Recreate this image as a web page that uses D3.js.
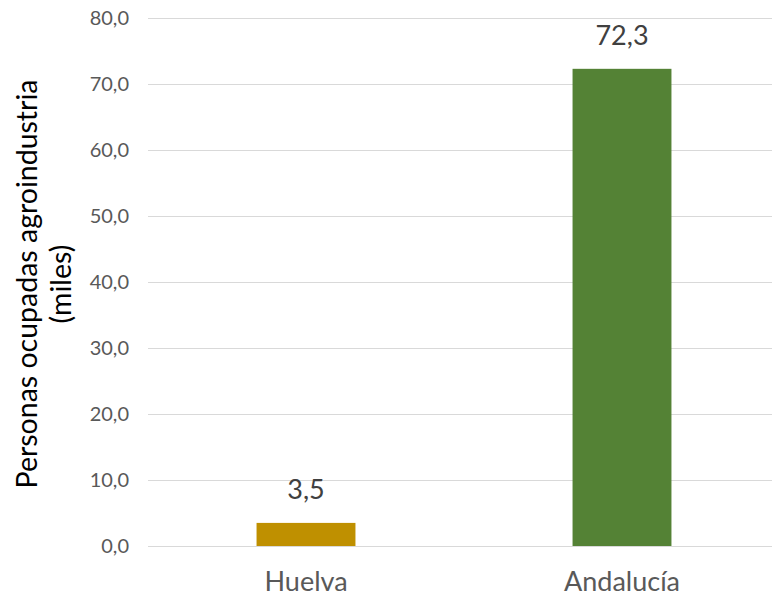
<!DOCTYPE html>
<html>
<head>
<meta charset="utf-8">
<script src="https://cdn.jsdelivr.net/npm/d3@7"></script>
<style>
  body { margin: 0; background: #fff; }
  text { font-family: Lato, "Open Sans", sans-serif; }
</style>
</head>
<body>
<div id="chart"></div>
<script>
// Data
const categories = ["Huelva", "Andalucía"];
const values = [3.5, 72.3];
const barColors = ["#BF9000", "#548235"];
const yTicks = [0, 10, 20, 30, 40, 50, 60, 70, 80];
const yTitleLines = ["Personas ocupadas agroindustria", "(miles)"];

const W = 775, H = 600;
const margin = { top: 18, right: -5, bottom: 54, left: 148 };
const width = W - margin.left - margin.right;
const height = H - margin.top - margin.bottom;

const fmt = d => d.toFixed(1).replace(".", ",");

const svg = d3.select("#chart").append("svg")
    .attr("width", W)
    .attr("height", H);

const g = svg.append("g")
    .attr("transform", `translate(${margin.left},${margin.top})`);

const x = d3.scaleBand()
    .domain(categories)
    .range([0, width])
    .paddingInner(0.687)
    .paddingOuter(0.3435);

const y = d3.scaleLinear()
    .domain([0, 80])
    .range([height, 0]);

// grid
g.append("g")
    .selectAll("line")
    .data(yTicks)
    .join("line")
    .attr("x1", 0)
    .attr("x2", 772 - margin.left)
    .attr("y1", d => Math.round(y(d)) + 0.5)
    .attr("y2", d => Math.round(y(d)) + 0.5)
    .attr("stroke", "#d9d9d9")
    .attr("stroke-width", 1);

// y axis labels
const yAxis = g.append("g")
    .attr("transform", "translate(-19,0)")
    .call(d3.axisLeft(y).tickValues(yTicks).tickFormat(fmt).tickSize(0).tickPadding(0));
yAxis.select(".domain").remove();
yAxis.selectAll("text")
    .attr("fill", "#595959")
    .style("font-size", "20px");

// x axis labels
const xAxis = g.append("g")
    .attr("transform", `translate(0,${height})`)
    .call(d3.axisBottom(x).tickSize(0).tickPadding(26));
xAxis.select(".domain").remove();
xAxis.selectAll("text")
    .attr("fill", "#595959")
    .style("font-size", "27px");

// bars
g.append("g")
    .selectAll("rect")
    .data(values)
    .join("rect")
    .attr("x", (d, i) => x(categories[i]))
    .attr("width", x.bandwidth())
    .attr("y", d => y(d))
    .attr("height", d => y(0) - y(d))
    .attr("fill", (d, i) => barColors[i]);

// data labels
g.append("g")
    .selectAll("text")
    .data(values)
    .join("text")
    .attr("x", (d, i) => x(categories[i]) + x.bandwidth() / 2)
    .attr("y", d => y(d) - 24)
    .attr("text-anchor", "middle")
    .attr("fill", "#404040")
    .style("font-size", "27px")
    .text(fmt);

// y title
const title = svg.append("text")
    .attr("transform", `translate(37,${margin.top + height / 2 + 2}) rotate(-90)`)
    .attr("text-anchor", "middle")
    .attr("fill", "#000")
    .style("font-size", "28.5px");
title.selectAll("tspan")
    .data(yTitleLines)
    .join("tspan")
    .attr("x", 0)
    .attr("dy", (d, i) => i === 0 ? 0 : 34)
    .text(d => d);
</script>
</body>
</html>
